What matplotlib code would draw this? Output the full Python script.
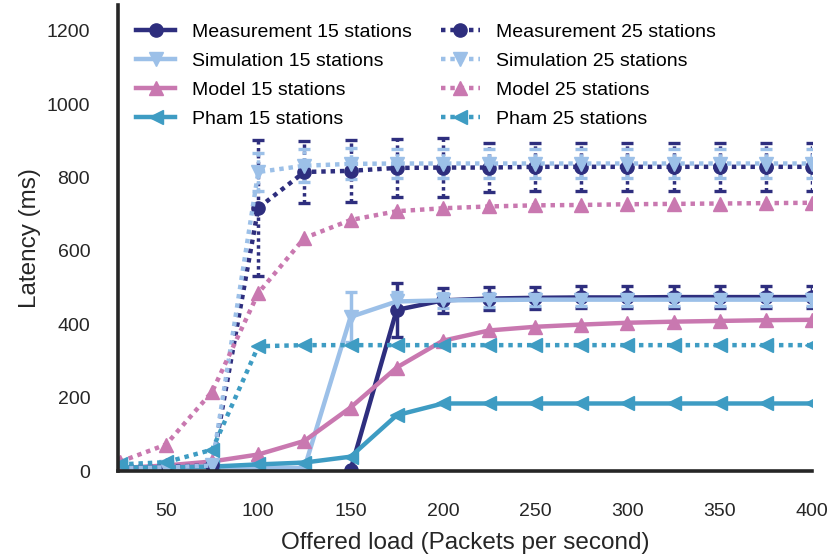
import matplotlib
matplotlib.use("Agg")
import matplotlib.pyplot as plt

plt.rcParams['font.family'] = ['Liberation Sans', 'DejaVu Sans']

loads = [25, 50, 75, 100, 125, 150, 175, 200, 225, 250, 275, 300, 325, 350, 375, 400]
loads_meas15 = [150, 175, 200, 225, 250, 275, 300, 325, 350, 375, 400]

meas15 = [3, 439, 465, 470, 472, 473, 473, 474, 474, 474, 474]
meas15_err = [0, 74, 35, 32, 30, 30, 30, 30, 30, 30, 30]
sim15 = [5, 8, 12, 10, 8, 420, 462, 465, 466, 467, 467, 467, 467, 467, 467, 467]
sim15_err = [0, 0, 0, 0, 0, 68, 25, 20, 18, 18, 18, 18, 18, 18, 18, 18]
model15 = [8, 15, 26, 45, 82, 173, 282, 355, 383, 393, 399, 404, 407, 409, 411, 412]
pham15 = [10, 10, 12, 18, 23, 39, 152, 184, 184, 184, 184, 184, 184, 184, 184, 184]

meas25 = [12, 12, 15, 717, 815, 818, 826, 827, 827, 829, 829, 829, 829, 829, 829, 829]
meas25_err = [0, 0, 0, 185, 85, 84, 78, 80, 67, 66, 66, 66, 66, 66, 66, 66]
sim25 = [8, 10, 15, 815, 832, 837, 838, 838, 838, 838, 838, 838, 838, 838, 838, 838]
sim25_err = [0, 0, 0, 52, 45, 42, 40, 40, 40, 40, 40, 40, 40, 40, 40, 40]
model25 = [25, 72, 216, 485, 635, 684, 708, 716, 721, 724, 725, 727, 728, 729, 730, 731]
pham25 = [18, 24, 58, 340, 343, 343, 343, 343, 343, 343, 343, 343, 343, 343, 343, 343]

x_ticks = [50, 100, 150, 200, 250, 300, 350, 400]
y_ticks = [0, 200, 400, 600, 800, 1000, 1200]

c_meas = '#2e2e7e'
c_sim = '#9cc0e8'
c_model = '#c978b0'
c_pham = '#3e9cc3'

fig = plt.figure(figsize=(8.29, 5.60), dpi=100)
ax = fig.add_axes([118 / 829, 1 - 471 / 560, (812 - 118) / 829, (471 - 5) / 560])

lw = 3.2
ms = 9.5
dots = (1.0, 1.1)


def draw(x, y, err, color, marker, dotted, label):
    if err is not None:
        eb = ax.errorbar(x, y, yerr=err, fmt='none', ecolor=color, elinewidth=2.5,
                         capsize=4, capthick=2.4, zorder=2)
        if dotted:
            for lc in eb[2]:
                lc.set_linestyle((0, (1.0, 1.0)))
    kw = dict(color=color, lw=lw, marker=marker, ms=ms, label=label, zorder=3,
              markeredgecolor=color)
    line, = ax.plot(x, y, **kw)
    if dotted:
        line.set_dashes(dots)
    return line


draw(loads_meas15, meas15, meas15_err, c_meas, 'o', False, 'Measurement 15 stations')
draw(loads, sim15, sim15_err, c_sim, 'v', False, 'Simulation 15 stations')
draw(loads, model15, None, c_model, '^', False, 'Model 15 stations')
draw(loads, pham15, None, c_pham, '<', False, 'Pham 15 stations')
draw(loads, meas25, meas25_err, c_meas, 'o', True, 'Measurement 25 stations')
draw(loads, sim25, sim25_err, c_sim, 'v', True, 'Simulation 25 stations')
draw(loads, model25, None, c_model, '^', True, 'Model 25 stations')
draw(loads, pham25, None, c_pham, '<', True, 'Pham 25 stations')

ax.set_xlim(24, 400)
ax.set_ylim(0, 1270)
ax.set_xticks(x_ticks)
ax.set_yticks(y_ticks)
ax.tick_params(length=0, labelsize=14, colors='#262626')
ax.tick_params(axis='x', pad=23)
ax.tick_params(axis='y', pad=20)
ax.set_xlabel('Offered load (Packets per second)', fontsize=17.5, color='#262626', labelpad=9)
ax.set_ylabel('Latency (ms)', fontsize=17.5, color='#262626', labelpad=4)

for s in ['top', 'right']:
    ax.spines[s].set_visible(False)
for s in ['left', 'bottom']:
    ax.spines[s].set_linewidth(2.6)
    ax.spines[s].set_color('#262626')
    ax.spines[s].set_zorder(5)

ax.legend(ncol=2, loc='upper left', frameon=False, fontsize=14, handlelength=2.0,
          handletextpad=0.85, columnspacing=1.5, labelspacing=0.58,
          borderaxespad=0.5, borderpad=0.45)

fig.savefig('out.png', dpi=100)
